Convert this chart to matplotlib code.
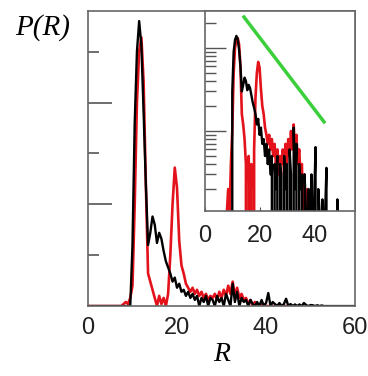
import matplotlib.pyplot as plt
import numpy as np

# distance grid (step 0.5)
r_black = np.arange(0, 60.5, 0.5)
p_black = [
    0, 0, 0, 0, 0, 0, 0, 0, 0, 0,            # 0 - 4.5
    0, 0, 0, 0, 0, 0, 0, 0, 0, 0,            # 5 - 9.5
    0.03, 0.09, 0.125, 0.14, 0.128, 0.095, 0.06, 0.03, 0.036, 0.044,   # 10 - 14.5
    0.04, 0.031, 0.036, 0.033, 0.027, 0.022, 0.019, 0.016, 0.012, 0.014,  # 15 - 19.5
    0.009, 0.011, 0.007, 0.008, 0.005, 0.007, 0.004, 0.006, 0.003, 0.005,  # 20 - 24.5
    0.0, 0.004, 0.002, 0.005, 0.0, 0.004, 0.003, 0.0, 0.005, 0.002,       # 25 - 29.5
    0.004, 0.0, 0.006, 0.003, 0.0, 0.011, 0.002, 0.007, 0.0, 0.004,       # 30 - 34.5
    0.002, 0.003, 0.0, 0.003, 0.001, 0.0, 0.002, 0.0, 0.003, 0.0,         # 35 - 39.5
    0.0015, 0.0064, 0.0, 0.002, 0.001, 0.0, 0.0015, 0.0, 0.001, 0.0036,   # 40 - 44.5
    0.0, 0.001, 0.0, 0.0008, 0.0, 0.0008, 0.0, 0.0015, 0.0005, 0.0,       # 45 - 49.5
    0.0005, 0.0004, 0.0, 0.0004, 0.0, 0.0003, 0.0, 0.0, 0.0, 0.0,         # 50 - 54.5
    0.0, 0.0, 0.0, 0.0, 0.0, 0.0, 0.0,                                   # 55 - 58
    0.0, 0.0, 0.0, 0.0,
][:len(r_black)]

r_red = np.arange(0, 45.5, 0.5)
p_red = [
    0, 0, 0, 0, 0, 0, 0, 0, 0, 0,            # 0 - 4.5
    0, 0, 0, 0, 0, 0, 0.001, 0.002, 0.001, 0.004,   # 5 - 9.5
    0.01, 0.05, 0.1, 0.125, 0.132, 0.11, 0.06, 0.016, 0.012, 0.008,  # 10 - 14.5
    0.004, 0.0, 0.005, 0.001, 0.004, 0.0, 0.006, 0.025, 0.05, 0.068, # 15 - 19.5
    0.058, 0.032, 0.02, 0.016, 0.011, 0.009, 0.007, 0.009, 0.006, 0.008,  # 20 - 24.5
    0.005, 0.007, 0.004, 0.006, 0.003, 0.005, 0.004, 0.006, 0.003, 0.007,  # 25 - 29.5
    0.004, 0.008, 0.005, 0.01, 0.006, 0.012, 0.005, 0.009, 0.004, 0.006,   # 30 - 34.5
    0.003, 0.004, 0.001, 0.003, 0.0, 0.002, 0.0, 0.001, 0.0, 0.001,        # 35 - 39.5
    0.0, 0.0, 0.0, 0.0, 0.0, 0.0, 0.0, 0.0, 0.0, 0.0, 0.0,                # 40 - 45
][:len(r_red)]

# guide line in the inset (exponential decay)
guide_r = [14.3, 43.6]
guide_p = [0.236, 0.0129]

RED = "#e3121b"
GREEN = "#3ccf3c"

fig = plt.figure(figsize=(3.68, 3.76), dpi=100)

# main axes
ax = fig.add_axes([0.239, 0.186, 0.726, 0.785])
ax.plot(r_red, p_red, color=RED, lw=1.9)
ax.plot(r_black, p_black, color="black", lw=1.7)
ax.set_xlim(0, 60)
ax.set_ylim(0, 0.145)
ax.set_xticks([0, 20, 40, 60])
ax.set_yticks([0.05, 0.1])
ax.set_yticks([0.025, 0.075, 0.125], minor=True)
ax.tick_params(axis="y", which="major", direction="in", length=17, width=1.2,
               color="#555555", labelleft=False)
ax.tick_params(axis="y", which="minor", direction="in", length=8, width=1.2,
               color="#555555")
ax.tick_params(axis="x", length=0, pad=8)
for lab in ax.get_xticklabels():
    lab.set_fontfamily("Liberation Sans")
    lab.set_fontsize(17)
    lab.set_color("#222222")
for sp in ax.spines.values():
    sp.set_color("#666666")
    sp.set_linewidth(1.2)
ax.set_xlabel("R", family="Liberation Serif", style="italic", fontsize=20,
              labelpad=2)

fig.text(0.04, 1 - 35 / 376, "P(R)", family="Liberation Serif", style="italic",
         fontsize=21, va="baseline", ha="left")

# inset, log scale
ins = fig.add_axes([0.557, 0.439, 0.408, 0.532])
ins.plot(r_red, p_red, color=RED, lw=1.9)
ins.plot(r_black, p_black, color="black", lw=1.7)
ins.plot(guide_r, guide_p, color=GREEN, lw=2.5)
ins.set_yscale("log")
ins.set_xlim(0, 55)
ins.set_ylim(1.09e-3, 0.28)
ins.set_xticks([0, 20, 40])
ins.tick_params(axis="y", which="major", direction="in", length=15, width=1.0,
                color="#555555", labelleft=False)
ins.tick_params(axis="y", which="minor", direction="in", length=8, width=1.0,
                color="#555555", labelleft=False)
ins.tick_params(axis="x", direction="in", length=3, pad=10, color="#555555")
for lab in ins.get_xticklabels():
    lab.set_fontfamily("Liberation Sans")
    lab.set_fontsize(17)
    lab.set_color("#222222")
for sp in ins.spines.values():
    sp.set_color("#666666")
    sp.set_linewidth(1.2)

fig.savefig("out.png", dpi=100)
